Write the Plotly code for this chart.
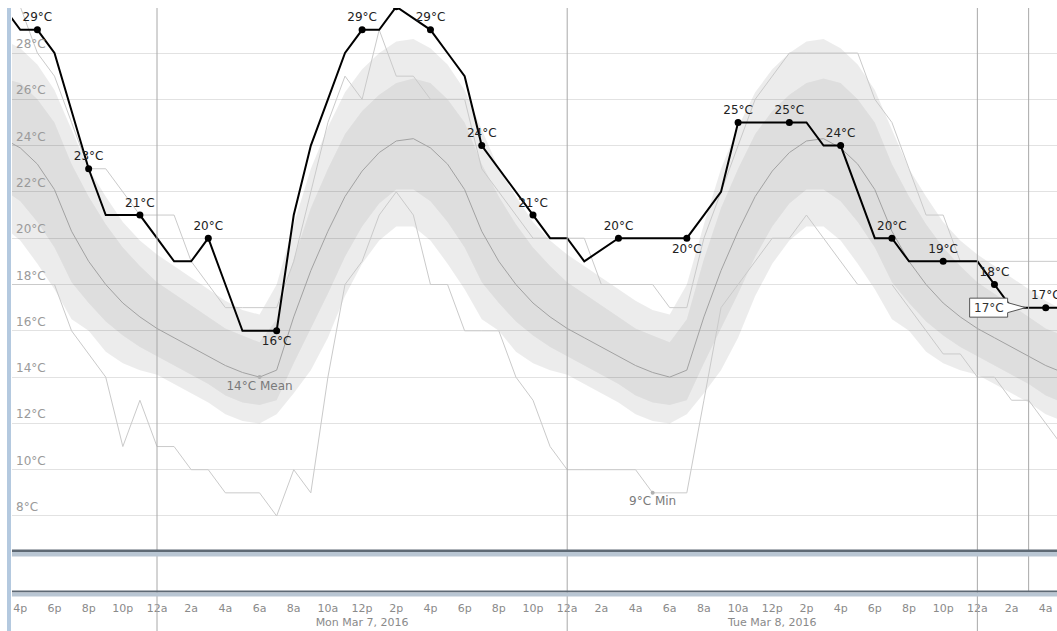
import pandas as pd
import plotly.graph_objects as go

# Hours are counted from Mon Mar 7, 2016 00:00
BASE = pd.Timestamp("2016-03-07 00:00")

# Hourly grid from Sun 3pm to Wed 5am
hours = list(range(-9, 54))

# Climatological mean temperature (°C)
mean_t = [24.3, 23.9, 23.2, 22.1, 20.3, 19.0, 18.0, 17.2, 16.6,
          16.1, 15.7, 15.3, 14.9, 14.5, 14.2, 14.0, 14.3, 16.6, 18.6, 20.3, 21.8,
          22.9, 23.7, 24.2, 24.3, 23.9, 23.2, 22.1, 20.3, 19.0, 18.0, 17.2, 16.6,
          16.1, 15.7, 15.3, 14.9, 14.5, 14.2, 14.0, 14.3, 16.6, 18.6, 20.3, 21.8,
          22.9, 23.7, 24.2, 24.3, 23.9, 23.2, 22.1, 20.3, 19.0, 18.0, 17.2, 16.6,
          16.1, 15.7, 15.3, 14.9, 14.5, 14.2]

# Inner (darker) percentile band
inner_hi = [26.9, 26.7, 26.0, 25.0, 23.2, 21.8, 20.6, 19.6, 18.8,
            18.1, 17.6, 17.1, 16.6, 16.1, 15.8, 15.5, 16.5, 19.1, 21.3, 23.0, 24.5,
            25.5, 26.2, 26.7, 26.9, 26.7, 26.0, 25.0, 23.2, 21.8, 20.6, 19.6, 18.8,
            18.1, 17.6, 17.1, 16.6, 16.1, 15.8, 15.5, 16.5, 19.1, 21.3, 23.0, 24.5,
            25.5, 26.2, 26.7, 26.9, 26.7, 26.0, 25.0, 23.2, 21.8, 20.6, 19.6, 18.8,
            18.1, 17.6, 17.1, 16.6, 16.1, 15.8]
inner_lo = [22.1, 21.6, 20.7, 19.6, 18.1, 17.2, 16.4, 15.8, 15.3,
            14.9, 14.5, 14.1, 13.7, 13.2, 12.9, 12.8, 13.0, 14.6, 16.1, 17.6, 19.2,
            20.5, 21.5, 22.1, 22.1, 21.6, 20.7, 19.6, 18.1, 17.2, 16.4, 15.8, 15.3,
            14.9, 14.5, 14.1, 13.7, 13.2, 12.9, 12.8, 13.0, 14.6, 16.1, 17.6, 19.2,
            20.5, 21.5, 22.1, 22.1, 21.6, 20.7, 19.6, 18.1, 17.2, 16.4, 15.8, 15.3,
            14.9, 14.5, 14.1, 13.7, 13.2, 12.9]

# Outer (lighter) percentile band
outer_hi = [28.6, 28.2, 27.5, 26.4, 24.7, 23.0, 21.8, 20.7, 19.9,
            19.3, 18.8, 18.3, 17.8, 17.3, 16.9, 16.7, 18.0, 20.6, 23.0, 24.8, 26.3,
            27.3, 28.0, 28.5, 28.6, 28.2, 27.5, 26.4, 24.7, 23.0, 21.8, 20.7, 19.9,
            19.3, 18.8, 18.3, 17.8, 17.3, 16.9, 16.7, 18.0, 20.6, 23.0, 24.8, 26.3,
            27.3, 28.0, 28.5, 28.6, 28.2, 27.5, 26.4, 24.7, 23.0, 21.8, 20.7, 19.9,
            19.3, 18.8, 18.3, 17.8, 17.3, 16.9]
outer_lo = [20.5, 19.9, 18.9, 17.8, 16.5, 16.0, 15.1, 14.6, 14.3,
            14.1, 13.7, 13.3, 12.9, 12.4, 12.1, 12.0, 12.4, 13.3, 14.3, 15.7, 17.5,
            18.9, 19.9, 20.5, 20.5, 19.9, 18.9, 17.8, 16.5, 16.0, 15.1, 14.6, 14.3,
            14.1, 13.7, 13.3, 12.9, 12.4, 12.1, 12.0, 12.4, 13.3, 14.3, 15.7, 17.5,
            18.9, 19.9, 20.5, 20.5, 19.9, 18.9, 17.8, 16.5, 16.0, 15.1, 14.6, 14.3,
            14.1, 13.7, 13.3, 12.9, 12.4, 12.1]

# Upper and lower reference lines
max_t = [31, 30, 28, 27, 25, 23, 23, 22, 21,
         21, 21, 19, 18, 17, 17, 17, 17, 19, 22, 25, 27,
         26, 29, 27, 27, 26, 26, 26, 23, 22, 21, 20, 20,
         20, 20, 18, 18, 18, 18, 17, 17, 20, 22, 24, 26,
         27, 28, 28, 28, 28, 28, 26, 25, 23, 21, 21, 19,
         19, 19, 19, 19, 19, 19]
min_t = [18, 18, 18, 18, 16, 15, 14, 11, 13,
         11, 11, 10, 10, 9, 9, 9, 8, 10, 9, 14, 18,
         19, 21, 22, 21, 18, 18, 16, 16, 16, 14, 13, 11,
         10, 10, 10, 10, 10, 9, 9, 9, 13, 17, 18, 19,
         20, 20, 21, 20, 19, 18, 18, 18, 17, 16, 15, 15,
         14, 14, 13, 13, 12, 11]

# Observed temperature (some hours missing)
obs_hours = [-9, -8, -7, -6, -4, -3, -2, -1, 0, 1, 2, 3, 4, 5, 6, 7, 8, 9, 10, 11,
             12, 13, 14, 16, 17, 18, 19, 20, 21, 22, 23, 24, 25, 27, 28, 29, 30, 31,
             32, 33, 34, 35, 36, 37, 38, 39, 40, 41, 42, 43, 44, 45, 46, 47, 48, 49,
             50, 51, 52, 53]
obs_t = [30, 29, 29, 28, 23, 21, 21, 21, 20, 19, 19, 20, 18, 16, 16, 16, 21, 24, 26, 28,
         29, 29, 30, 29, 28, 27, 24, 23, 22, 21, 20, 20, 19, 20, 20, 20, 20, 20,
         21, 22, 25, 25, 25, 25, 25, 24, 24, 22, 20, 20, 19, 19, 19, 19, 19, 18,
         17, 17, 17, 17]

# Observations that carry a marker and value label
dot_hours = [-7, -4, -1, 3, 7, 12, 16, 19, 22, 27, 31, 34, 37, 40, 43, 46, 49, 52]
labels_below = [7, 31]
# peak observation, marker only (its label lies above the plot)
peak_hour = 14

mean_label_hour = 6
min_label_hour = 29
tooltip_hour = 51

y_ticks = [8, 10, 12, 14, 16, 18, 20, 22, 24, 26, 28]
x_tick_hours = list(range(-8, 53, 2))
x_tick_text = ["4p", "6p", "8p", "10p", "12a", "2a", "4a", "6a", "8a", "10a",
               "12p<br>Mon Mar 7, 2016", "2p", "4p", "6p", "8p", "10p",
               "12a", "2a", "4a", "6a", "8a", "10a",
               "12p<br>Tue Mar 8, 2016", "2p", "4p", "6p", "8p", "10p",
               "12a", "2a", "4a"]
midnight_hours = [0, 24, 48]


def at(h):
    return BASE + pd.Timedelta(hours=h)


t = [at(h) for h in hours]
obs_x = [at(h) for h in obs_hours]
obs_map = dict(zip(obs_hours, obs_t))

FONT = "DejaVu Sans"
fig = go.Figure()

# percentile bands
fig.add_trace(go.Scatter(x=t, y=outer_lo, mode="lines", line=dict(width=0),
                         hoverinfo="skip", showlegend=False))
fig.add_trace(go.Scatter(x=t, y=outer_hi, mode="lines", line=dict(width=0),
                         fill="tonexty", fillcolor="rgba(0,0,0,0.075)",
                         hoverinfo="skip", showlegend=False))
fig.add_trace(go.Scatter(x=t, y=inner_lo, mode="lines", line=dict(width=0),
                         hoverinfo="skip", showlegend=False))
fig.add_trace(go.Scatter(x=t, y=inner_hi, mode="lines", line=dict(width=0),
                         fill="tonexty", fillcolor="rgba(0,0,0,0.06)",
                         hoverinfo="skip", showlegend=False))

# mean and reference lines
fig.add_trace(go.Scatter(x=t, y=mean_t, mode="lines",
                         line=dict(color="#a2a2a2", width=1), showlegend=False))
fig.add_trace(go.Scatter(x=t, y=max_t, mode="lines",
                         line=dict(color="#cacaca", width=1), showlegend=False))
fig.add_trace(go.Scatter(x=t, y=min_t, mode="lines",
                         line=dict(color="#cacaca", width=1), showlegend=False))

mean_v = mean_t[hours.index(mean_label_hour)]
min_v = min_t[hours.index(min_label_hour)]
fig.add_trace(go.Scatter(
    x=[at(mean_label_hour), at(min_label_hour)], y=[mean_v, min_v],
    mode="markers+text",
    text=[f"{mean_v:.0f}°C Mean", f"{min_v:.0f}°C Min"],
    textposition="bottom center",
    textfont=dict(family=FONT, size=12, color="#7a7a7a"),
    marker=dict(size=4, color="#b0b0b0"), showlegend=False))

# observed temperature
fig.add_trace(go.Scatter(x=obs_x, y=obs_t, mode="lines",
                         line=dict(color="#000000", width=2), showlegend=False))
dot_v = [obs_map[h] for h in dot_hours]
fig.add_trace(go.Scatter(
    x=[at(h) for h in dot_hours], y=dot_v, mode="markers+text",
    text=[f"{v}°C" for v in dot_v],
    textposition=["bottom center" if h in labels_below else "top center"
                  for h in dot_hours],
    textfont=dict(family=FONT, size=12, color="#222222"),
    marker=dict(size=7, color="#000000"), cliponaxis=True, showlegend=False))
fig.add_trace(go.Scatter(
    x=[at(peak_hour)], y=[obs_map[peak_hour]], mode="markers",
    marker=dict(size=7, color="#000000"), cliponaxis=True, showlegend=False))

# plot geometry (pixels) used to place chrome elements in paper units
W, H = 1057, 631
ML, MR, MT, MB = 12, 0, 8, 35
PH = H - MT - MB
PW = W - ML - MR


def py(ypix):
    return (H - MB - ypix) / PH


shapes = []
for h in midnight_hours:
    shapes.append(dict(type="line", xref="x", yref="paper", x0=at(h), x1=at(h),
                       y0=py(H), y1=1, line=dict(color="#a8a8a8", width=1),
                       layer="above"))
shapes.append(dict(type="line", xref="x", yref="paper", x0=at(tooltip_hour),
                   x1=at(tooltip_hour), y0=py(592), y1=1,
                   line=dict(color="#a8a8a8", width=1), layer="above"))

# navigator bars
for top, bot, col in [(549.5, 552, "#5e6974"), (552, 556.5, "#b9c6d3"),
                      (590.5, 592.5, "#5e6974"), (592.5, 596.5, "#b9c6d3")]:
    shapes.append(dict(type="rect", xref="paper", yref="paper", x0=0, x1=1,
                       y0=py(bot), y1=py(top), fillcolor=col, line=dict(width=0),
                       layer="above"))

# left edge strip
shapes.append(dict(type="rect", xref="paper", yref="paper", x0=-5 / PW, x1=-1 / PW,
                   y0=py(H), y1=1, fillcolor="#b4c9df", line=dict(width=0),
                   layer="above"))

# tooltip callout for the crosshair hour
tip_v = obs_map[tooltip_hour]
shapes.append(dict(type="path", xref="x", yref="y", xsizemode="pixel",
                   ysizemode="pixel", xanchor=at(tooltip_hour), yanchor=tip_v,
                   path="M -59,9.5 L -21,9.5 L -21,5 L -3,0 L -21,-5 L -21,-9.5 L -59,-9.5 Z",
                   fillcolor="#ffffff", line=dict(color="#555555", width=1),
                   layer="above"))

annotations = []
for v in y_ticks:
    annotations.append(dict(xref="paper", yref="y", x=0, y=v, xanchor="left",
                            yanchor="bottom", xshift=2, text=f"{v}°C",
                            showarrow=False,
                            font=dict(family=FONT, size=12, color="#9a9a9a")))
annotations.append(dict(xref="x", yref="y", x=at(tooltip_hour), y=tip_v,
                        xshift=-40, text=f"{tip_v}°C", showarrow=False,
                        font=dict(family=FONT, size=12, color="#333333")))

fig.update_layout(
    width=W, height=H,
    margin=dict(l=ML, r=MR, t=MT, b=MB, autoexpand=False),
    paper_bgcolor="#ffffff", plot_bgcolor="#ffffff",
    showlegend=False, hovermode=False,
    shapes=shapes, annotations=annotations,
    xaxis=dict(type="date",
               range=[at(-8.485), at(52.66)],
               tickvals=[at(h) for h in x_tick_hours], ticktext=x_tick_text,
               tickangle=0, automargin=False, ticklabelstandoff=4,
               tickfont=dict(family=FONT, size=11, color="#8a8a8a"),
               showgrid=False, zeroline=False, showline=False, ticks=""),
    yaxis=dict(range=[4.544, 29.944], tickvals=y_ticks, showticklabels=False,
               automargin=False,
               gridcolor="#e2e2e2", gridwidth=1, zeroline=False, showline=False,
               ticks=""),
)

fig.write_html("out.html")
